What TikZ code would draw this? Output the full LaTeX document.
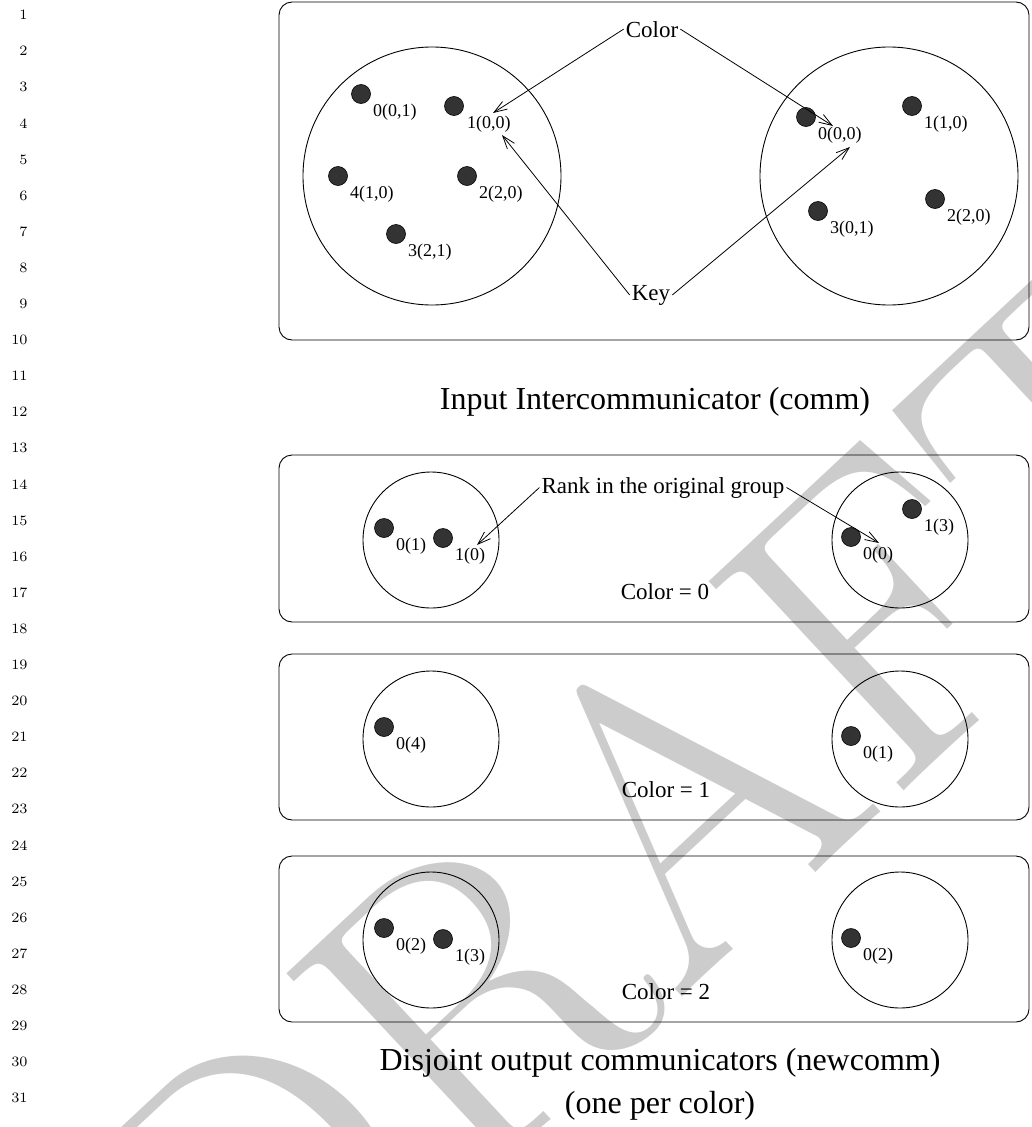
\documentclass[tikz,border=0pt]{standalone}
\usepackage{fontspec}
\setmainfont{Liberation Serif}
\usetikzlibrary{arrows.meta}
\begin{document}
\begin{tikzpicture}[x=1pt,y=-1pt,
  frame/.style={draw, line width=0.9pt, rounded corners=13pt},
  grp/.style={draw, line width=0.9pt},
  proc/.style={circle, draw=black, fill=black!80, line width=0.6pt, minimum size=19pt, inner sep=0pt},
  plab/.style={font=\fontsize{18}{20}\selectfont, inner sep=0pt, anchor=north west},
  lab/.style={font=\fontsize{23}{26}\selectfont, inner sep=2pt},
  ttl/.style={font=\fontsize{32}{38}\selectfont, inner sep=0pt, anchor=base},
  ptr/.style={line width=0.8pt, -{Straight Barb[length=13pt,width=9pt]}},
  lnum/.style={anchor=east, inner sep=0pt, scale=2.2, font=\fontfamily{lmr}\fontsize{6.5}{8}\selectfont},
  wmark/.style={rotate=43, text=black!20, font=\fontfamily{lmr}\fontsize{420}{420}\selectfont, inner sep=0pt}
]
\useasboundingbox (0,0) rectangle (1031,1127);

% watermark
\node[wmark] (wm) at (665,815) {DRAFT};

% line numbers
\foreach \n in {1,...,31} \node[lnum] (ln\n) at (28,{15+(\n-1)*36.1}) {\n};

% frames
\draw[frame] (279,2) rectangle (1029,340);
\draw[frame] (279,455) rectangle (1029,622);
\draw[frame] (279,654) rectangle (1029,820);
\draw[frame] (279,856) rectangle (1029,1022);

% groups
\draw[grp] (432,176) circle (129);
\draw[grp] (889,176) circle (129);
\draw[grp] (431,540) circle (68);
\draw[grp] (900,540) circle (68);
\draw[grp] (431,739) circle (68);
\draw[grp] (900,739) circle (68);
\draw[grp] (431,940) circle (68);
\draw[grp] (900,940) circle (68);

% processes, box 1
\node[proc] (a0) at (361,94) {};
\node[plab] (la0) at (373,104) {0(0,1)};
\node[proc] (a1) at (454,106) {};
\node[plab] (la1) at (467,116) {1(0,0)};
\node[proc] (a4) at (338,176) {};
\node[plab] (la4) at (350,186) {4(1,0)};
\node[proc] (a2) at (467,176) {};
\node[plab] (la2) at (479,186) {2(2,0)};
\node[proc] (a3) at (396,234) {};
\node[plab] (la3) at (408,244) {3(2,1)};

\node[proc] (b0) at (806,117) {};
\node[plab] (lb0) at (818,127) {0(0,0)};
\node[proc] (b1) at (912,106) {};
\node[plab] (lb1) at (924,116) {1(1,0)};
\node[proc] (b3) at (818,211) {};
\node[plab] (lb3) at (830,221) {3(0,1)};
\node[proc] (b2) at (935,199) {};
\node[plab] (lb2) at (947,209) {2(2,0)};

% box 2
\node[proc] (c0) at (384,528) {};
\node[plab] (lc0) at (396,538) {0(1)};
\node[proc] (c1) at (443,538) {};
\node[plab] (lc1) at (455,548) {1(0)};
\node[proc] (d0) at (851,537) {};
\node[plab] (ld0) at (863,547) {0(0)};
\node[proc] (d1) at (912,509) {};
\node[plab] (ld1) at (924,519) {1(3)};

% box 3
\node[proc] (e0) at (384,727) {};
\node[plab] (le0) at (396,737) {0(4)};
\node[proc] (f0) at (851,736) {};
\node[plab] (lf0) at (863,746) {0(1)};

% box 4
\node[proc] (g0) at (384,928) {};
\node[plab] (lg0) at (396,938) {0(2)};
\node[proc] (g1) at (443,939) {};
\node[plab] (lg1) at (455,949) {1(3)};
\node[proc] (h0) at (851,938) {};
\node[plab] (lh0) at (863,948) {0(2)};

% labels
\node[lab, anchor=base] (color) at (652,37) {Color};
\node[lab, anchor=base] (key) at (651,300) {Key};
\node[lab, anchor=base] (rank) at (663,493) {Rank in the original group};
\node[lab, anchor=base] (c0lab) at (665,599) {Color = 0};
\node[lab, anchor=base] (c1lab) at (666,797) {Color = 1};
\node[lab, anchor=base] (c2lab) at (666,999) {Color = 2};

% pointer tips
\coordinate (tA1c) at (493,113);
\coordinate (tA1k) at (502,135);
\coordinate (tB0c) at (833,126);
\coordinate (tB0k) at (850,147);
\coordinate (tC1) at (477,545);
\coordinate (tD0) at (879,543);

\draw[ptr] (color.west) -- (tA1c);
\draw[ptr] (color.east) -- (tB0c);
\draw[ptr] (key.west) -- (tA1k);
\draw[ptr] (key.east) -- (tB0k);
\draw[ptr] (rank.west) -- (tC1);
\draw[ptr] (rank.east) -- (tD0);

% titles
\node[ttl] (t1) at (655,409) {Input Intercommunicator (comm)};
\node[ttl] (t2) at (660,1070) {Disjoint output communicators (newcomm)};
\node[ttl] (t3) at (660,1113) {(one per color)};
\end{tikzpicture}
\end{document}
